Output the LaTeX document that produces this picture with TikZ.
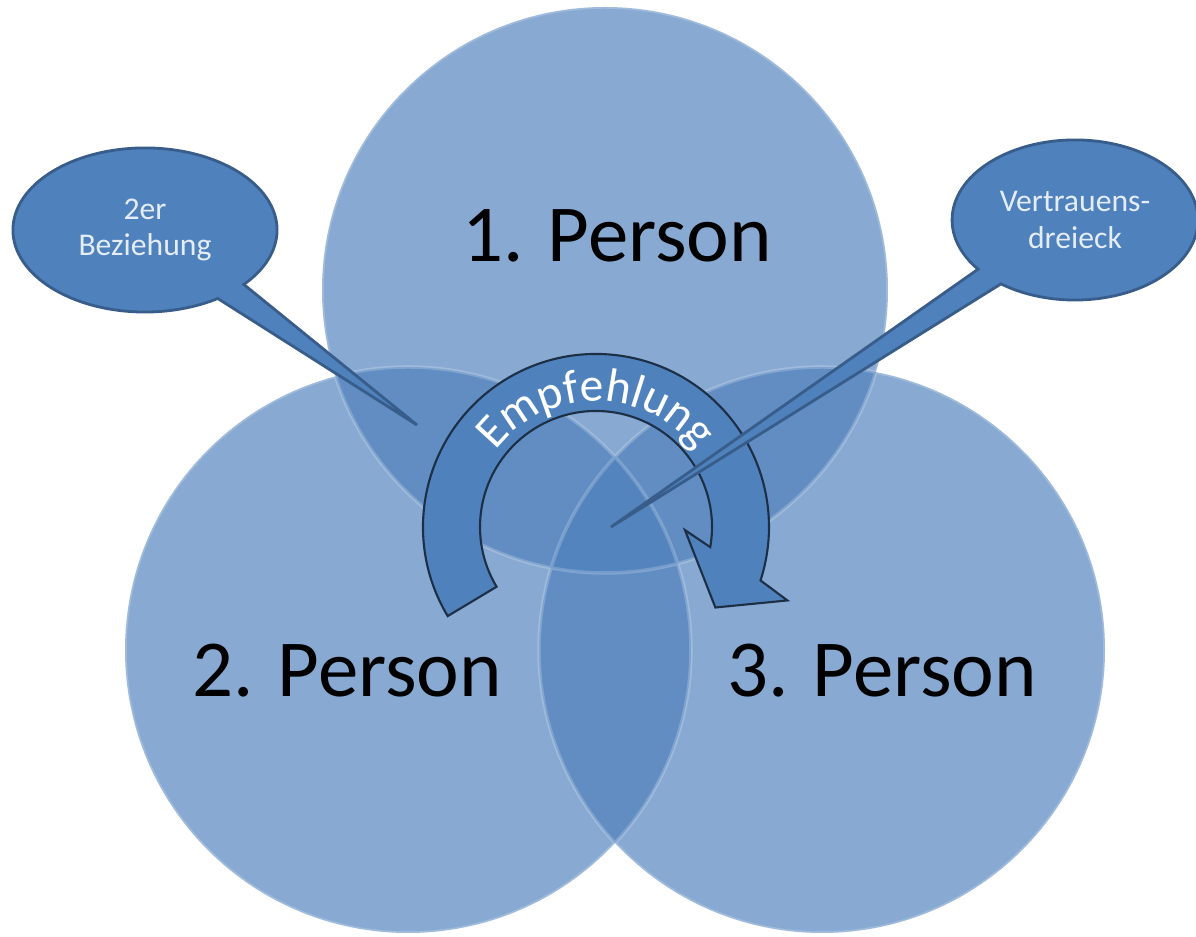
\documentclass[tikz,border=0pt]{standalone}
\usepackage{fontspec}
\setmainfont{Carlito}
\usetikzlibrary{calc,positioning,shapes.callouts,decorations.text}
\definecolor{pblue}{RGB}{79,129,189}
\definecolor{pedge}{RGB}{56,93,138}
\definecolor{ptext}{RGB}{228,236,246}

\begin{document}
\begin{tikzpicture}[x=0.01cm, y=0.01cm,
    person/.style={fill=pblue, fill opacity=0.68},
    bubble/.style={ellipse callout, fill=pblue, draw=pedge, line width=0.8pt, text=ptext,
        align=center, font=\fontsize{9}{10.5}\selectfont, callout pointer arc=15},
    pname/.style={font=\fontsize{23}{28}\selectfont, anchor=base}]
        \useasboundingbox[fill=white] (0,0) rectangle (1196,937);

        \coordinate (1) at (605,647);
        \coordinate (2) at (408,287);
        \coordinate (3) at (822,287);
        \coordinate (c) at (596,410);

        % three persons
        \fill[person] (1) circle (283);
        \fill[person] (2) circle (283);
        \fill[person] (3) circle (283);
        \draw[white, opacity=0.2, line width=1pt] (1) circle (283) (2) circle (283) (3) circle (283);

        % Empfehlung arrow
        \filldraw[fill=pblue, draw=pedge!50!black, line width=0.6pt]
            ($(c)+(211:173)$) arc[start angle=211, end angle=-18, radius=173]
            -- ($(c)+(-21:205)$) -- ($(c)+(-34:144)$) -- ($(c)+(-2:89)$)
            -- ($(c)+(-10:116)$) arc[start angle=-10, end angle=211, radius=116] -- cycle;
        \path[decorate, decoration={text along path, text align=center,
            text={|\fontsize{13.5}{16}\selectfont\color{white}|Empfehlung}}]
            ($(c)+(170:126)$) arc[start angle=170, end angle=10, radius=126];

        \node[pname] (p1) at (617,675) {1. Person};
        \node[pname] (p2) at (347,240) {2. Person};
        \node[pname] (p3) at (882,240) {3. Person};

        % callouts
        \coordinate (tipL) at (417,512);
        \coordinate (tipR) at (611,410);
        \node[bubble, minimum width=2.64cm, minimum height=1.64cm,
            callout absolute pointer={(tipL)}] (bez) at (145,707) {2er\\Beziehung};
        \node[bubble, minimum width=2.44cm, minimum height=1.60cm,
            callout absolute pointer={(tipR)}] (dreieck) at (1075,717) {Vertrauens-\\dreieck};
    \end{tikzpicture}
\end{document}
